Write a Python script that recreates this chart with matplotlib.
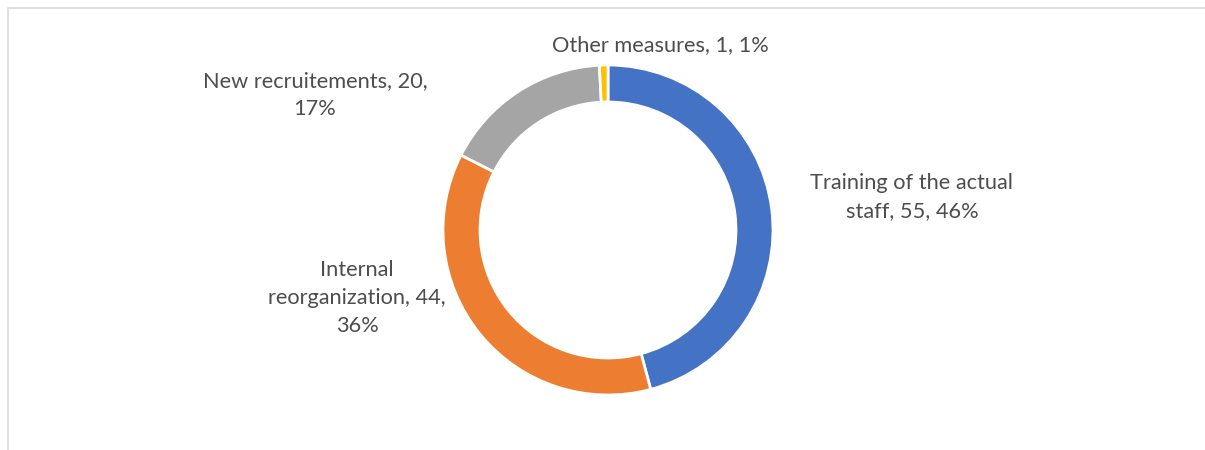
"""Donut chart of measures taken (training, reorganization, recruitment)."""
import matplotlib
matplotlib.use('Agg')
from matplotlib import pyplot as plt

# data
labels = ['Training of the actual\nstaff', 'Internal\nreorganization',
          'New recruitements', 'Other measures']
counts = [55, 44, 20, 1]
pcts = [46, 36, 17, 1]
colours = ['#4472C4', '#ED7D31', '#A5A5A5', '#FFC000']

# label text as Excel wraps it
label_text = ['Training of the actual\nstaff, 55, 46%',
              'Internal\nreorganization, 44,\n36%',
              'New recruitements, 20,\n17%',
              'Other measures, 1, 1%']
label_pos = [(912, 197), (357, 298), (315, 95), (660, 45)]

W, H = 1205, 450
fig = plt.figure(figsize=(W / 100, H / 100), dpi=100)
ax = fig.add_axes([0, 0, 1, 1])

wedges, _ = ax.pie(counts, colors=colours, startangle=90, counterclock=False,
                   radius=165, center=(608, H - 230),
                   wedgeprops=dict(width=37, edgecolor='white', linewidth=2))

for txt, (x, y) in zip(label_text, label_pos):
    ax.text(x, H - y, txt, ha='center', va='center', fontsize=15.7,
            family='Lato', color='#4D4D4D', linespacing=1.5)

# chart frame (cropped at right and bottom)
ax.plot([7.5, 7.5, W], [0, H - 7.5, H - 7.5], color='#D9D9D9', lw=1.2)

ax.set_xlim(0, W)
ax.set_ylim(0, H)
ax.set_aspect('auto')
ax.axis('off')
fig.savefig('out.png', dpi=100)
